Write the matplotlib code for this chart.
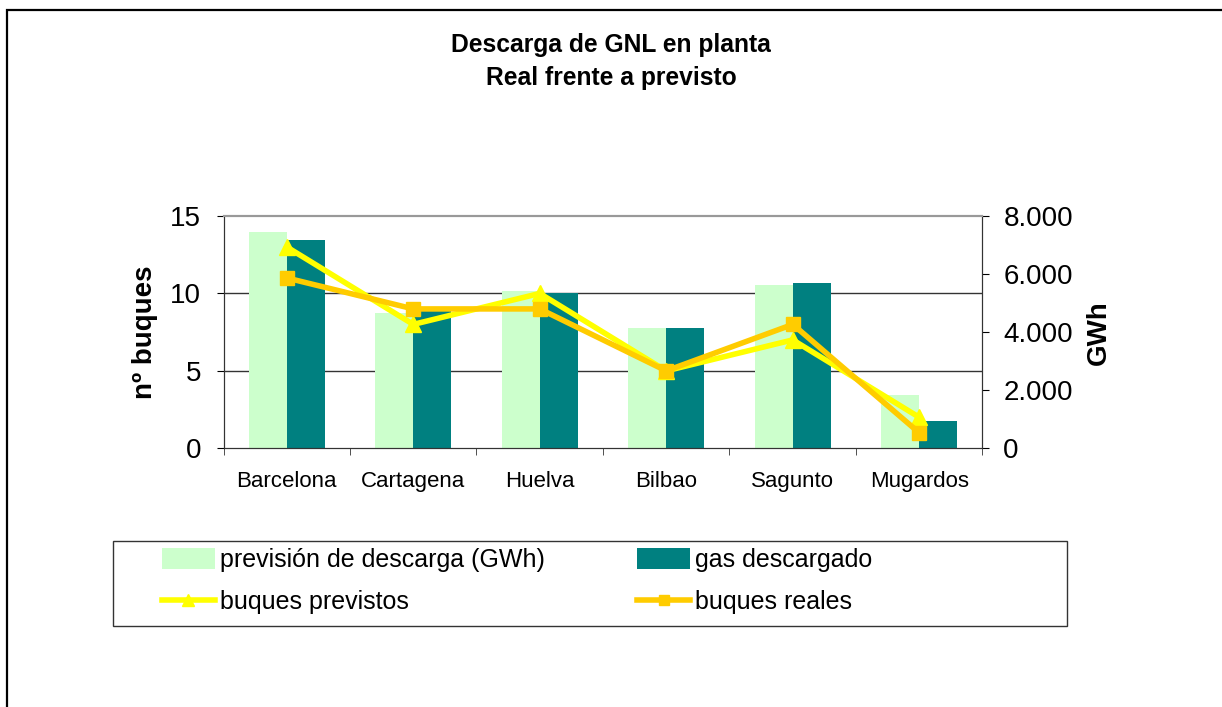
import matplotlib.pyplot as plt
from matplotlib.patches import Rectangle, Patch
from matplotlib.lines import Line2D
from matplotlib.ticker import FuncFormatter
import numpy as np

plt.rcParams['font.family'] = ['Liberation Sans', 'DejaVu Sans']

plantas = ["Barcelona", "Cartagena", "Huelva", "Bilbao", "Sagunto", "Mugardos"]
prevision_gwh = [7460, 4670, 5430, 4150, 5630, 1840]
gas_descargado = [7180, 4800, 5345, 4150, 5700, 940]
buques_previstos = [13, 8, 10, 5, 7, 2]
buques_reales = [11, 9, 9, 5, 8, 1]

c_prev = "#CCFFCC"
c_gas = "#008080"
c_bprev = "#FFFF00"
c_breal = "#FFCC00"

W, H = 1222, 707
fig = plt.figure(figsize=(W / 100, H / 100), dpi=100)

# outer chart border (cut off at right and bottom)
fig.patches.append(Rectangle((7 / W, -0.1), 1.2, 1 - 10 / H + 0.1,
                             transform=fig.transFigure, fill=False,
                             edgecolor="black", linewidth=1.6))

ax = fig.add_axes([223.5 / W, 1 - 448.3 / H, 759 / W, 232.3 / H])
ax2 = ax.twinx()

x = np.arange(len(plantas))
w = 0.3

# bars on the GWh axis
ax2.bar(x - w / 2, prevision_gwh, w, color=c_prev, zorder=2)
ax2.bar(x + w / 2, gas_descargado, w, color=c_gas, zorder=2)
for v in (5, 10):
    ax2.axhline(v * 8000 / 15, color="#333333", linewidth=1, zorder=1)
ax2.set_ylim(0, 8000)
ax2.set_yticks([0, 2000, 4000, 6000, 8000])
ax2.yaxis.set_major_formatter(FuncFormatter(lambda v, p: f"{int(v):,}".replace(",", ".")))
ax2.set_ylabel("GWh", fontsize=20, fontweight="bold", labelpad=9.5)

# lines on the buques axis, drawn above the bars
ax.set_zorder(ax2.get_zorder() + 1)
ax.patch.set_visible(False)
ax.plot(x, buques_previstos, color=c_bprev, linewidth=4, marker="^",
        markersize=11, zorder=3)
ax.plot(x, buques_reales, color=c_breal, linewidth=4, marker="s",
        markersize=10, zorder=4)
ax.set_ylim(0, 15)
ax.set_yticks([0, 5, 10, 15])
ax.set_xlim(-0.5, len(plantas) - 0.5)
ax.set_ylabel("nº buques", fontsize=20, fontweight="bold", labelpad=8.5)

ax.set_xticks(x)
ax.set_xticklabels(plantas, fontsize=16)
ax.set_xticks(np.arange(-0.5, len(plantas)), minor=True)
ax.tick_params(axis="x", which="major", length=0, pad=16)
ax.tick_params(axis="x", which="minor", length=5, color="#333333")
ax.tick_params(axis="y", labelsize=20, length=5, pad=11)
ax2.tick_params(axis="y", labelsize=20, length=5, pad=10)

for a in (ax, ax2):
    a.spines["top"].set_color("#999999")
    a.spines["top"].set_linewidth(1.5)
    for s in ("left", "right", "bottom"):
        a.spines[s].set_color("#333333")

fig.text(0.5, 1 - 45 / H, "Descarga de GNL en planta",
         ha="center", va="center", fontsize=17.7, fontweight="bold")
fig.text(0.5, 1 - 78 / H, "Real frente a previsto",
         ha="center", va="center", fontsize=17.7, fontweight="bold")

# legend frame
fig.patches.append(Rectangle((113 / W, 1 - 626 / H), 954 / W, 85 / H,
                             transform=fig.transFigure, fill=False,
                             edgecolor="#333333", linewidth=1))

handles = [
    Patch(facecolor=c_prev, edgecolor="none"),
    Line2D([], [], color=c_bprev, linewidth=4, marker="^", markersize=8),
    Patch(facecolor=c_gas, edgecolor="none"),
    Line2D([], [], color=c_breal, linewidth=4, marker="s", markersize=7),
]
labels = ["previsión de descarga (GWh)", "buques previstos",
          "gas descargado", "buques reales"]
fig.legend(handles, labels, ncol=2, loc="upper left",
           bbox_to_anchor=(162 / W, 1 - 626 / H, (872 - 162) / W, (626 - 548) / H),
           mode="expand", fontsize=18, frameon=False,
           handlelength=2.1, handleheight=0.9,
           handletextpad=0.2, borderpad=0, labelspacing=0.72,
           borderaxespad=0)

fig.savefig("out.png", dpi=100)
